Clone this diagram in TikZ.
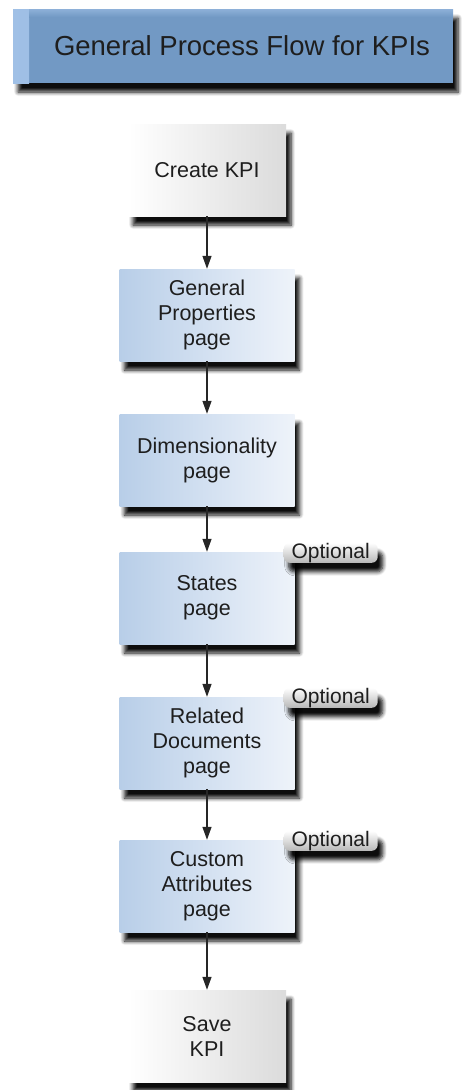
\documentclass[tikz,border=0pt]{standalone}
\usepackage{fontspec}
\setmainfont{Liberation Sans}
\usetikzlibrary{arrows.meta,shadows.blur}
\definecolor{titleblue}{RGB}{114,153,196}
\definecolor{titlelight}{RGB}{160,192,230}
\definecolor{paleblue}{RGB}{184,206,232}
\definecolor{whiteblue}{RGB}{238,243,250}
\definecolor{boxtext}{RGB}{30,30,30}
\tikzset{
  boxshadow/.style={blur shadow={shadow xshift=5pt,shadow yshift=-9pt,
    shadow blur radius=4pt,shadow blur steps=6,shadow opacity=95}},
  flowbox/.style={boxshadow,minimum height=92pt,inner sep=2pt,align=center,
    text=boxtext,font=\fontsize{21.5}{25}\selectfont},
  bluebox/.style={flowbox,minimum width=175pt,left color=paleblue,right color=whiteblue},
  graybox/.style={flowbox,minimum width=158pt,left color=white,right color=black!14},
  opttag/.style={boxshadow,rounded corners=6pt,minimum width=94pt,minimum height=20pt,
    inner sep=0pt,top color=white,bottom color=black!28,text=boxtext,
    font=\fontsize{21}{21}\selectfont},
  flowarrow/.style={-{Triangle[length=13pt,width=9pt]},line width=1.3pt,black!85}
}
\begin{document}
\begin{tikzpicture}[x=1pt,y=1pt]
\useasboundingbox(0,0) rectangle (461,-1090);
%title
\node[boxshadow,minimum width=440pt,minimum height=74pt,fill=titleblue,text=boxtext,
  font=\fontsize{27.5}{32}\selectfont,
  path picture={
    \fill[left color=titlelight,right color=titleblue](path picture bounding box.south west)
      rectangle ([xshift=16pt]path picture bounding box.north west);
    \fill[top color=titlelight!60!titleblue,bottom color=titleblue,draw=none]
      ([xshift=16pt]path picture bounding box.north west)
      rectangle ([yshift=-8pt]path picture bounding box.north east);
  }](title)at(233,-46){\hspace*{18pt}General Process Flow for KPIs};
%steps
\node[graybox](create)at(207,-170){Create KPI};
\node[bluebox](genprop)at(207,-315){General\\Properties\\page};
\node[bluebox](dimens)at(207,-460){Dimensionality\\page};
\node[bluebox](states)at(207,-598){States\\page};
\node[bluebox](reldocs)at(207,-743){Related\\Documents\\page};
\node[bluebox](custattr)at(207,-886){Custom\\Attributes\\page};
\node[graybox](save)at(207,-1036){Save\\KPI};
%optional tags
\foreach \b in {states,reldocs,custattr}
{
\node[opttag](opt\b)at([xshift=36pt,yshift=-1pt]\b.north east){Optional};
}
%arrows
\draw[flowarrow](create.south)--(genprop.north);
\draw[flowarrow](genprop.south)--(dimens.north);
\draw[flowarrow](dimens.south)--(states.north);
\draw[flowarrow](states.south)--(reldocs.north);
\draw[flowarrow](reldocs.south)--(custattr.north);
\draw[flowarrow](custattr.south)--(save.north);
\end{tikzpicture}
\end{document}
